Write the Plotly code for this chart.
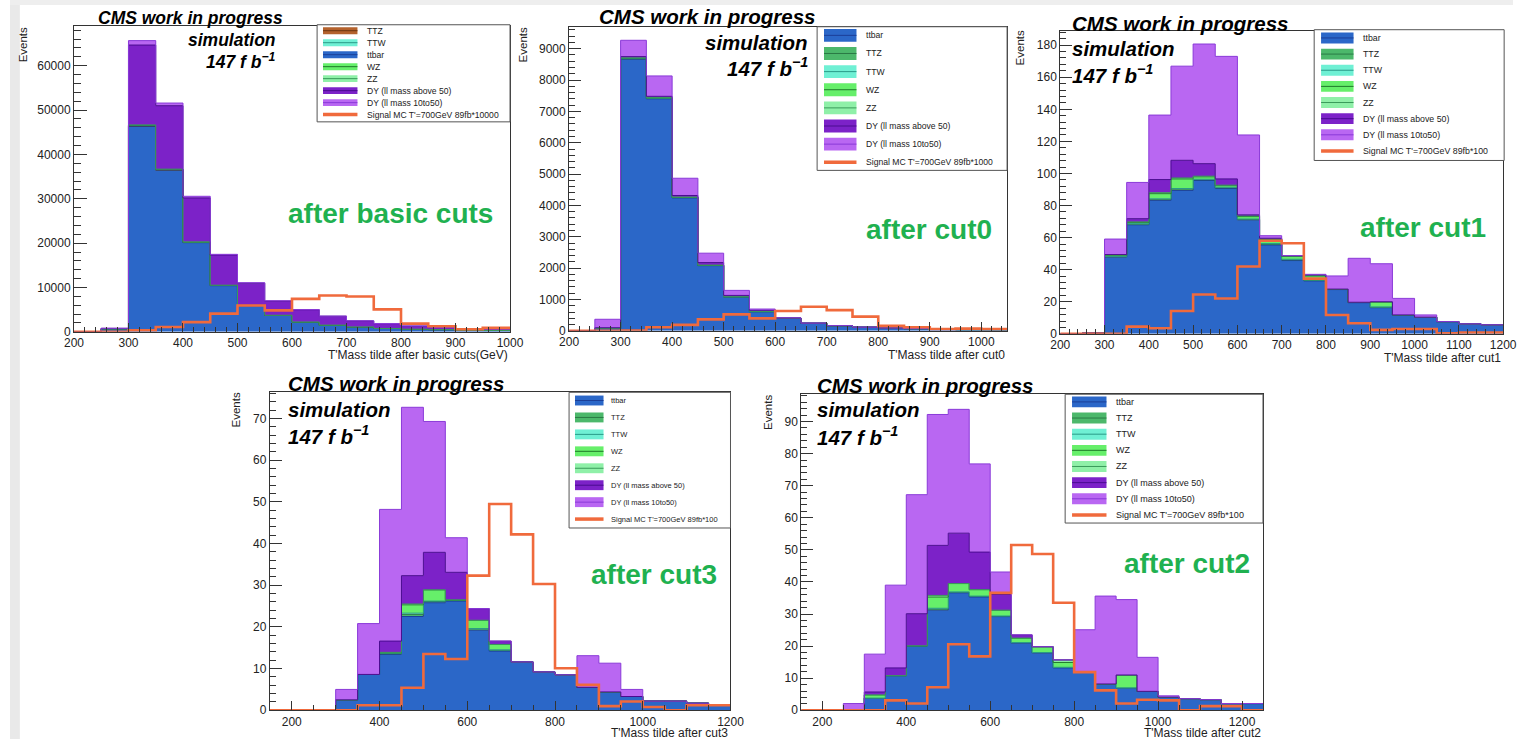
import plotly.graph_objects as go

W, H = 1527, 746

# ---------------- data ----------------
# Panel 1 : after basic cuts
p1_edges = [200, 250, 300, 350, 400, 450, 500, 550, 600, 650, 700, 750, 800, 850, 900, 950, 1000]
p1_ttbar = [0, 700, 46300, 36400, 20100, 10400, 5900, 3700, 2200, 1500, 1100, 750, 600, 500, 350, 300]
p1_ttz = [0, 0, 150, 120, 80, 50, 30, 20, 15, 10, 8, 6, 5, 4, 3, 3]
p1_ttw = [0, 0, 60, 50, 30, 20, 12, 8, 6, 4, 3, 2, 2, 1, 1, 1]
p1_wz = [0, 0, 100, 80, 60, 40, 25, 15, 10, 8, 6, 5, 4, 3, 2, 2]
p1_zz = [0, 0, 40, 30, 20, 15, 10, 6, 4, 3, 2, 2, 1, 1, 1, 1]
p1_dy50 = [0, 100, 18000, 14300, 9900, 6800, 5000, 3200, 2750, 2000, 1350, 1100, 700, 500, 350, 300]
p1_dy10 = [0, 0, 1000, 600, 370, 150, 100, 60, 40, 30, 20, 20, 10, 10, 10, 10]
p1_signal = [0, 0, 370, 1100, 2200, 4100, 5950, 4840, 7440, 8180, 7960, 5060, 1860, 1260, 600, 900]

# Panel 2 : after cut0
p2_edges = [200, 250, 300, 350, 400, 450, 500, 550, 600, 650, 700, 750, 800, 850, 900, 950, 1000, 1050]
p2_ttbar = [0, 80, 8660, 7400, 4240, 2080, 1080, 610, 400, 240, 160, 115, 90, 70, 50, 40, 40]
p2_ttz = [0, 0, 20, 18, 12, 8, 5, 3, 2, 2, 1, 1, 1, 1, 0, 0, 0]
p2_ttw = [0, 0, 8, 7, 5, 3, 2, 1, 1, 1, 0, 0, 0, 0, 0, 0, 0]
p2_wz = [0, 0, 15, 12, 8, 5, 3, 2, 2, 1, 1, 1, 0, 0, 0, 0, 0]
p2_zz = [0, 0, 5, 4, 3, 2, 1, 1, 1, 0, 0, 0, 0, 0, 0, 0, 0]
p2_dy50 = [0, 20, 40, 40, 50, 80, 40, 40, 5, 3, 2, 2, 1, 1, 1, 1, 1]
p2_dy10 = [0, 270, 520, 650, 550, 300, 160, 40, 5, 3, 2, 2, 1, 1, 1, 1, 1]
p2_signal = [0, 0, 10, 115, 190, 368, 526, 400, 632, 768, 663, 453, 158, 115, 60, 70, 60]

# Panel 3 : after cut1
p3_edges = [200, 250, 300, 350, 400, 450, 500, 550, 600, 650, 700, 750, 800, 850, 900, 950,
            1000, 1050, 1100, 1150, 1200]
p3_ttbar = [0, 0.5, 47.8, 68, 83.2, 89.4, 95.6, 90.6, 70.9, 55.4, 45.7, 33, 27.6, 19.4, 16.3, 11.7,
            10.3, 7.6, 6.2, 5.6]
p3_ttz = [0, 0, 0.3, 0.4, 0.7, 0.8, 0.5, 0.5, 0.4, 0.6, 0.5, 0.4, 0.2, 0.2, 0.3, 0.1, 0.1, 0, 0, 0]
p3_ttw = [0, 0, 0.2, 0.3, 0.3, 0.4, 0.3, 0.3, 0.3, 0.3, 0.3, 0.2, 0.1, 0.1, 0.2, 0, 0, 0, 0, 0]
p3_wz = [0, 0, 0.8, 0.8, 3.2, 6, 1.5, 1, 1.5, 2.5, 1.7, 2.5, 0, 0, 3, 0, 0, 0, 0, 0]
p3_zz = [0, 0, 0.3, 0.3, 0.6, 0.6, 0.4, 0.3, 0.4, 0.3, 0.2, 0.4, 0, 0, 0.2, 0, 0, 0, 0, 0]
p3_dy50 = [0, 0, 0, 2, 8.2, 11, 7.8, 3.9, 0.7, 0.5, 0.3, 0.2, 0, 0, 0, 0, 0, 0, 0, 0]
p3_dy10 = [0, 0, 9.7, 22.6, 40.2, 58.7, 74.6, 76.4, 49.8, 1.6, 0.1, 0.4, 8.2, 27.4, 23.7, 10.3,
           1.4, 0, 0, 0]
p3_signal = [0, 0, 0, 4.5, 3.5, 14.2, 24.5, 22, 42, 58, 56.5, 34.4, 11.7, 6.6, 2.5, 3, 3, 0.4, 0.8, 0.8]

# Panel 4 : after cut3
p4_edges = [150, 200, 250, 300, 350, 400, 450, 500, 550, 600, 650, 700, 750, 800, 850, 900, 950,
            1000, 1050, 1100, 1150, 1200]
p4_ttbar = [0, 0, 0, 2.5, 8.6, 13.4, 22.5, 25.8, 26.2, 19.2, 14.2, 11.5, 9.1, 8.5, 5.5, 4.4, 3.3,
            2.2, 2.2, 1.7, 1.2]
p4_ttz = [0, 0, 0, 0, 0, 0.2, 0.5, 0.3, 0.2, 0.4, 0.3, 0.1, 0.1, 0, 0, 0, 0, 0, 0, 0, 0]
p4_ttw = [0, 0, 0, 0, 0, 0.1, 0.3, 0.1, 0.1, 0, 0, 0, 0, 0, 0, 0, 0, 0, 0, 0, 0]
p4_wz = [0, 0, 0, 0, 0, 0.1, 2.0, 2.7, 0, 2.0, 1.3, 0, 0, 0, 0, 0, 0, 0, 0, 0, 0]
p4_zz = [0, 0, 0, 0, 0, 0.1, 0.2, 0, 0, 0, 0, 0, 0, 0, 0, 0, 0, 0, 0, 0, 0]
p4_dy50 = [0, 0, 0, 0, 0, 2.7, 6.8, 9.0, 6.6, 2.8, 0.8, 0, 0, 0, 0, 0, 0, 0, 0, 0, 0]
p4_dy10 = [0, 0, 0, 2.5, 12.2, 31.6, 40.4, 31.4, 8.3, 0, 0, 0, 0, 0, 7.6, 6.9, 1.7, 0, 0, 0, 0]
p4_signal = [0, 0, 0, 0, 1.2, 1.2, 5.4, 13.5, 12.3, 32.3, 49.5, 42.2, 30.3, 10.1, 6.1, 1.0, 2.1,
             0.8, 0, 1.2, 1.2]

# Panel 5 : after cut2
p5_edges = [150, 200, 250, 300, 350, 400, 450, 500, 550, 600, 650, 700, 750, 800, 850, 900, 950,
            1000, 1050, 1100, 1150, 1200, 1250]
p5_ttbar = [0, 0, 0, 3.8, 10.8, 20.1, 31.2, 36.6, 35.3, 29.2, 20.9, 17.8, 13.2, 11.9, 8.2, 7.0, 5.9,
            4.1, 3.6, 3.3, 2.1, 2.1]
p5_ttz = [0, 0, 0, 0, 0, 0, 0.4, 0.3, 0.3, 0.2, 0.2, 0.2, 0.2, 0, 0, 0, 0, 0, 0, 0, 0, 0]
p5_ttw = [0, 0, 0, 0, 0, 0, 0.2, 0, 0, 0, 0, 0, 0, 0, 0, 0, 0, 0, 0, 0, 0, 0]
p5_wz = [0, 0, 0, 1.0, 0, 0, 3.5, 2.6, 2.0, 1.8, 1.4, 1.8, 1.5, 0, 0, 4.0, 0, 0, 0, 0, 0, 0]
p5_zz = [0, 0, 0, 0, 0, 0, 0.5, 0, 0, 0, 0, 0, 0.8, 0, 0, 0, 0, 0, 0, 0, 0, 0]
p5_dy50 = [0, 0, 0, 0.9, 2.4, 10, 15.6, 15.7, 11.7, 4.9, 1.0, 0, 0, 0, 0, 0, 0, 0, 0, 0, 0, 0]
p5_dy10 = [0, 0, 2.1, 11.8, 25.8, 37.1, 40.8, 38.6, 27.5, 7.0, 0, 0, 0, 13.2, 27.4, 23.5, 10.6, 0.4,
           0, 0, 0, 0]
p5_signal = [0, 0, 0, 0, 3.1, 2.1, 7.2, 20.6, 16.8, 36.6, 51.5, 48.7, 33.5, 11.9, 6.2, 2.1, 3.3, 3.1,
             0, 1.3, 1.3, 0]

process_names = ["ttbar", "TTZ", "TTW", "WZ", "ZZ", "DY (ll mass above 50)", "DY (ll mass 10to50)"]
x_titles = ["T'Mass tilde after basic cuts(GeV)", "T'Mass tilde after cut0", "T'Mass tilde after cut1",
            "T'Mass tilde after cut3", "T'Mass tilde after cut2"]
stage_labels = ["after basic cuts", "after cut0", "after cut1", "after cut3", "after cut2"]
signal_labels = ["Signal MC T'=700GeV 89fb*10000", "Signal MC T'=700GeV 89fb*1000",
                 "Signal MC T'=700GeV 89fb*100", "Signal MC T'=700GeV 89fb*100",
                 "Signal MC T'=700GeV 89fb*100"]

# ---------------- styles ----------------
FILL = {"ttbar": "#2b67c8", "TTZ": "#4cb86b", "TTW": "#6ff0d4", "WZ": "#66ef6a", "ZZ": "#8ff0a8",
        "DY (ll mass above 50)": "#7c22c8", "DY (ll mass 10to50)": "#b967f2"}
LINE = {"ttbar": "#1b3f98", "TTZ": "#2a7a45", "TTW": "#2a9a88", "WZ": "#1f7a2a", "ZZ": "#3a9a5a",
        "DY (ll mass above 50)": "#4a0c90", "DY (ll mass 10to50)": "#8a3ad8"}
TTZ_BROWN_FILL, TTZ_BROWN_LINE = "#b4622d", "#6b3410"
ORANGE = "#f06a3c"
GREEN_TXT = "#1fb150"
FONT = "Liberation Sans, Arial, sans-serif"

panels = [
    dict(edges=p1_edges, stack=[p1_ttbar, p1_ttz, p1_ttw, p1_wz, p1_zz, p1_dy50, p1_dy10], signal=p1_signal,
         dom=(65, 508, 26, 335), xr=[200, 1000], yr=[0, 69000], xd=100, xm=20, yd=10000, ym=2000,
         ytl=13, ymtl=7, brown=True,
         cms=dict(size=17.5, x=272, y=[18, 40, 62], align="right", cx=87),
         ev=(13, 45), xt=(508, 358), stage=(493, 216),
         leg=dict(box=(312, 25, 508, 123), y0=31, dy=12.1, sx=(318, 353), sh=7, tx=361, fs=8.6,
                  order=[1, 2, 0, 3, 4, 5, 6, 7])),
    dict(edges=p2_edges, stack=[p2_ttbar, p2_ttz, p2_ttw, p2_wz, p2_zz, p2_dy50, p2_dy10], signal=p2_signal,
         dom=(568, 1013, 27, 334), xr=[200, 1050], yr=[0, 9700], xd=100, xm=20, yd=1000, ym=200,
         ytl=12, ymtl=6, brown=False,
         cms=dict(size=20.5, x=813, y=[17, 43, 68], align="right", cx=596),
         ev=(521, 45), xt=(1013, 358), stage=(1000, 232),
         leg=dict(box=(820, 27, 1013, 172), y0=35.7, dy=18.3, sx=(827, 860), sh=13, tx=868, fs=8.6,
                  order=[0, 1, 2, 3, 4, 5, 6, 7])),
    dict(edges=p3_edges, stack=[p3_ttbar, p3_ttz, p3_ttw, p3_wz, p3_zz, p3_dy50, p3_dy10], signal=p3_signal,
         dom=(1067, 1517, 31, 337), xr=[200, 1200], yr=[0, 189], xd=100, xm=20, yd=20, ym=4,
         ytl=12, ymtl=6, brown=False,
         cms=dict(size=20.5, x=1077, y=[24, 49, 75], align="left", cx=1077),
         ev=(1026, 48), xt=(1517, 361), stage=(1502, 230),
         leg=dict(box=(1325, 30, 1518, 162), y0=38.3, dy=16.3, sx=(1332, 1365), sh=11, tx=1373, fs=8.8,
                  order=[0, 1, 2, 3, 4, 5, 6, 7])),
    dict(edges=p4_edges, stack=[p4_ttbar, p4_ttz, p4_ttw, p4_wz, p4_zz, p4_dy50, p4_dy10], signal=p4_signal,
         dom=(264, 732, 396, 717), xr=[150, 1200], yr=[0, 76.3], xd=200, xm=50, yd=10, ym=2,
         ytl=12, ymtl=6, brown=False,
         cms=dict(size=20.5, x=280, y=[387, 413, 439], align="left", cx=280),
         ev=(230, 414), xt=(731, 740), stage=(720, 580),
         leg=dict(box=(568, 396, 732, 533), y0=404.3, dy=17.1, sx=(574, 603), sh=10, tx=609, fs=7.5,
                  order=[0, 1, 2, 3, 4, 5, 6, 7])),
    dict(edges=p5_edges, stack=[p5_ttbar, p5_ttz, p5_ttw, p5_wz, p5_zz, p5_dy50, p5_dy10], signal=p5_signal,
         dom=(804, 1273, 398, 717), xr=[150, 1250], yr=[0, 98.5], xd=200, xm=50, yd=10, ym=2,
         ytl=12, ymtl=6, brown=False,
         cms=dict(size=20.5, x=818, y=[389, 413, 440], align="left", cx=818),
         ev=(770, 416), xt=(1273, 740), stage=(1262, 569),
         leg=dict(box=(1072, 398, 1273, 528), y0=405.7, dy=16.3, sx=(1079, 1114), sh=11, tx=1122, fs=9.0,
                  order=[0, 1, 2, 3, 4, 5, 6, 7])),
]


def X(px):
    return px / W


def Y(py):
    return 1 - py / H


fig = go.Figure()
shapes = []
annotations = []

# page background strips (slide edges)
shapes.append(dict(type="rect", xref="paper", yref="paper", x0=0, x1=X(10), y0=0, y1=1,
                   fillcolor="#e9e9e9", line_width=0, layer="below"))
shapes.append(dict(type="rect", xref="paper", yref="paper", x0=0, x1=1, y0=Y(5), y1=1,
                   fillcolor="#eeeeee", line_width=0, layer="below"))

for i, p in enumerate(panels, start=1):
    xa = "x" if i == 1 else f"x{i}"
    ya = "y" if i == 1 else f"y{i}"
    edges = p["edges"]
    fills = []
    lines = []
    for name, vals in zip(process_names, p["stack"]):
        fc, lc = FILL[name], LINE[name]
        if name == "TTZ" and p["brown"]:
            fc, lc = TTZ_BROWN_FILL, TTZ_BROWN_LINE
        fills.append(fc)
        lines.append(lc)
        fig.add_trace(go.Scatter(
            x=edges, y=list(vals) + [vals[-1]], xaxis=xa, yaxis=ya, stackgroup=f"stack{i}",
            mode="lines", line=dict(shape="hv", width=1, color=lc), fillcolor=fc,
            name=name, showlegend=False, hoverinfo="skip"))
    sig = p["signal"]
    fig.add_trace(go.Scatter(
        x=edges, y=list(sig) + [sig[-1]], xaxis=xa, yaxis=ya, mode="lines",
        line=dict(shape="hv", width=2.6, color=ORANGE), name="signal", showlegend=False,
        hoverinfo="skip"))

    x0, x1, y0, y1 = p["dom"]
    axcommon = dict(showline=True, linecolor="#333333", linewidth=1, mirror=True, ticks="inside",
                    tickcolor="#333333", showgrid=False, zeroline=False, tickformat="d",
                    exponentformat="none",
                    tickfont=dict(family=FONT, size=12, color="#222222"))
    fig.update_layout(**{
        ("xaxis" if i == 1 else f"xaxis{i}"): dict(
            axcommon, domain=[X(x0), X(x1)], range=p["xr"], anchor=ya, tick0=0, dtick=p["xd"],
            ticklen=9, minor=dict(ticks="inside", ticklen=5, dtick=p["xm"], tick0=0,
                                  tickcolor="#333333", showgrid=False)),
        ("yaxis" if i == 1 else f"yaxis{i}"): dict(
            axcommon, domain=[Y(y1), Y(y0)], range=p["yr"], anchor=xa, tick0=0, dtick=p["yd"],
            ticklen=p["ytl"], minor=dict(ticks="inside", ticklen=p["ymtl"], dtick=p["ym"], tick0=0,
                                         tickcolor="#333333", showgrid=False)),
    })

    # CMS labels
    c = p["cms"]
    anc = "right" if c["align"] == "right" else "left"
    annotations.append(dict(text="<b><i>CMS work in progress</i></b>", x=X(c["cx"]), y=Y(c["y"][0]),
                            xref="paper", yref="paper", xanchor="left", yanchor="middle",
                            showarrow=False, font=dict(family=FONT, size=c["size"], color="black")))
    annotations.append(dict(text="<b><i>simulation</i></b>", x=X(c["x"]), y=Y(c["y"][1]),
                            xref="paper", yref="paper", xanchor=anc, yanchor="middle",
                            showarrow=False, font=dict(family=FONT, size=c["size"], color="black")))
    annotations.append(dict(text="<b><i>147 f b<sup>−1</sup></i></b>", x=X(c["x"]), y=Y(c["y"][2]),
                            xref="paper", yref="paper", xanchor=anc, yanchor="middle",
                            showarrow=False, font=dict(family=FONT, size=c["size"], color="black")))
    # axis titles
    annotations.append(dict(text="Events", x=X(p["ev"][0]), y=Y(p["ev"][1]), xref="paper", yref="paper",
                            textangle=-90, xanchor="center", yanchor="middle", showarrow=False,
                            font=dict(family=FONT, size=11.5, color="#222222")))
    annotations.append(dict(text=x_titles[i - 1], x=X(p["xt"][0]), y=Y(p["xt"][1]), xref="paper",
                            yref="paper", xanchor="right", yanchor="middle", showarrow=False,
                            font=dict(family=FONT, size=12, color="#222222")))
    # stage label
    annotations.append(dict(text="<b>" + stage_labels[i - 1] + "</b>", x=X(p["stage"][0]),
                            y=Y(p["stage"][1]), xref="paper", yref="paper", xanchor="right",
                            yanchor="middle", showarrow=False,
                            font=dict(family=FONT, size=28, color=GREEN_TXT)))

    # legend (ROOT-style box)
    lg = p["leg"]
    bx0, by0, bx1, by1 = lg["box"]
    shapes.append(dict(type="rect", xref="paper", yref="paper", x0=X(bx0), x1=X(bx1), y0=Y(by1),
                       y1=Y(by0), fillcolor="white", line=dict(color="#555555", width=1),
                       layer="above"))
    labels = process_names + [signal_labels[i - 1]]
    for k, idx in enumerate(lg["order"]):
        yc = lg["y0"] + k * lg["dy"]
        sx0, sx1 = lg["sx"]
        if idx < 7:
            shapes.append(dict(type="rect", xref="paper", yref="paper", x0=X(sx0), x1=X(sx1),
                               y0=Y(yc + lg["sh"] / 2), y1=Y(yc - lg["sh"] / 2),
                               fillcolor=fills[idx], line_width=0, layer="above"))
            shapes.append(dict(type="line", xref="paper", yref="paper", x0=X(sx0), x1=X(sx1),
                               y0=Y(yc), y1=Y(yc), line=dict(color=lines[idx], width=1),
                               layer="above"))
        else:
            shapes.append(dict(type="line", xref="paper", yref="paper", x0=X(sx0), x1=X(sx1),
                               y0=Y(yc), y1=Y(yc), line=dict(color=ORANGE, width=3.5),
                               layer="above"))
        annotations.append(dict(text=labels[idx], x=X(lg["tx"]), y=Y(yc), xref="paper", yref="paper",
                                xanchor="left", yanchor="middle", showarrow=False,
                                font=dict(family=FONT, size=lg["fs"], color="#222222")))

fig.update_layout(
    width=W, height=H, margin=dict(l=0, r=0, t=0, b=0, pad=0),
    paper_bgcolor="white", plot_bgcolor="white", showlegend=False,
    shapes=shapes, annotations=annotations,
    font=dict(family=FONT),
)

fig.write_html("out.html")
